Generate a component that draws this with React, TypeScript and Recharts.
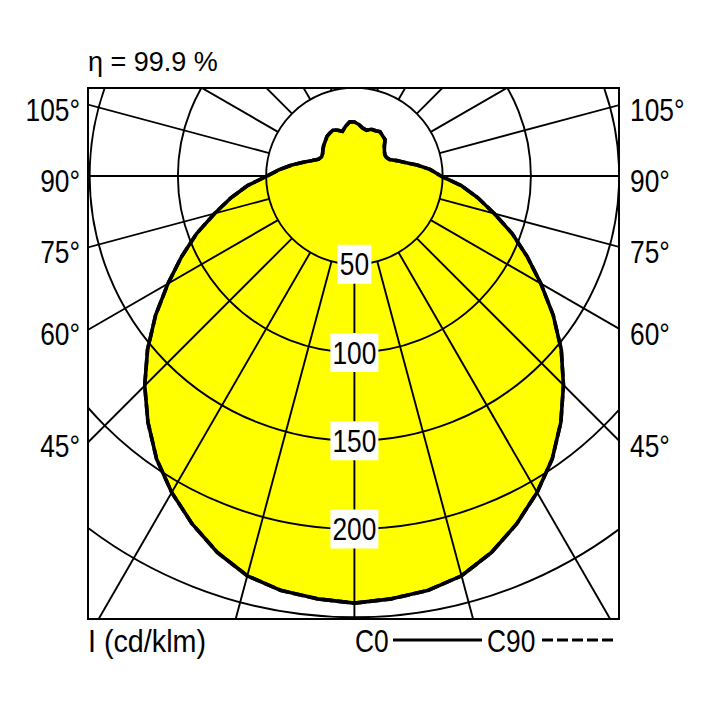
import { RadarChart, Radar, PolarGrid, PolarAngleAxis, PolarRadiusAxis } from "recharts";

// luminous intensity (cd/klm) per gamma angle, 0 = straight down
const gammaAngles = [
  0, 5, 10, 15, 20, 25, 30, 35, 40, 45, 50, 55, 60, 65, 70, 75, 80, 85,
  90, 95, 100, 105, 110, 115, 120, 125, 130, 135, 140, 145, 150, 155, 160, 165, 170, 175,
  180, 185, 190, 195, 200, 205, 210, 215, 220, 225, 230, 235, 240, 245, 250, 255, 260, 265,
  270, 275, 280, 285, 290, 295, 300, 305, 310, 315, 320, 325, 330, 335, 340, 345, 350, 355,
];
const c0Values = [
  242, 240.5, 238.5, 234.5, 227, 217.5, 207, 195.5, 182, 167.5, 153, 137.5, 122, 108, 95, 82, 71, 60.5,
  49, 43, 36, 29.7, 25.5, 22, 21, 21, 22.2, 24, 27, 27.8, 29, 28.3, 28.2, 26.8, 27.5, 29.3,
  30.6, 30.8, 28.6, 26.2, 27.6, 28.7, 28, 27.2, 25.7, 24.6, 23.3, 22, 21.5, 22.5, 25.5, 30, 36, 42.5,
  49.5, 60.5, 71, 82, 95, 108, 122, 137.5, 153, 168, 182, 195.5, 207, 217.5, 227, 234.5, 238.5, 240.5,
];
const c90Values = [
  242, 240.5, 238.5, 234.5, 227, 217.5, 207, 195.5, 182, 167.5, 153, 137.5, 122, 108, 95, 82, 71, 60.5,
  49, 43, 36, 29.7, 25.5, 22, 21, 21, 22.2, 24, 27, 27.8, 29, 28.3, 28.2, 26.8, 27.5, 29.3,
  30.6, 30.8, 28.6, 26.2, 27.6, 28.7, 28, 27.2, 25.7, 24.6, 23.3, 22, 21.5, 22.5, 25.5, 30, 36, 42.5,
  49.5, 60.5, 71, 82, 95, 108, 122, 137.5, 153, 168, 182, 195.5, 207, 217.5, 227, 234.5, 238.5, 240.5,
];

const gridAngles = [0, 15, 30, 45, 60, 75, 90, 105, 120, 135, 150, 165, 180, 195, 210, 225, 240, 255, 270, 285, 300, 315, 330, 345];
const radiusTicks = [50, 100, 150, 200, 250, 300];
const radiusLabels = [50, 100, 150, 200];
const sideAngleLabels = [105, 90, 75, 60, 45];

const FONT = "'Liberation Sans', Arial, sans-serif";
const NARROW = 0.85; // the original uses a condensed face

// geometry of the framed polar plot
const BOX_LEFT = 89;
const BOX_TOP = 89;
const BOX = 529;
const PX_PER_CD = 1.765;
const CX = 265.4;
const CY = 87;

const data = gammaAngles.map((g, i) => ({ gamma: g, c0: c0Values[i], c90: c90Values[i] }));

const chartProps = {
  width: BOX,
  height: BOX,
  data,
  cx: CX,
  cy: CY,
  innerRadius: radiusTicks[0] * PX_PER_CD,
  outerRadius: radiusTicks[radiusTicks.length - 1] * PX_PER_CD,
  startAngle: -90,
  endAngle: 270,
  margin: { top: 0, right: 0, bottom: 0, left: 0 },
};

function NarrowText({ x, y, anchor = "start", width, children }: any) {
  return (
    <text
      transform={`translate(${x} ${y}) scale(${NARROW} 1)`}
      textAnchor={anchor}
      fontFamily={FONT}
      fontSize={31}
      fill="#000"
      textLength={width ? width / NARROW : undefined}
      lengthAdjust={width ? "spacingAndGlyphs" : undefined}
    >
      {children}
    </text>
  );
}

function RadiusTick(props: any) {
  const { x, y, payload } = props;
  if (!radiusLabels.includes(payload.value)) return <g />;
  const label = String(payload.value);
  const w = label.length * 14 + 6;
  return (
    <g>
      <rect x={x - w / 2} y={y - 19.5} width={w} height={39} fill="#fff" />
      <NarrowText x={x} y={y + 11} anchor="middle">{label}</NarrowText>
    </g>
  );
}

function Axes({ labels }: { labels: boolean }) {
  return (
    <>
      <PolarAngleAxis
        dataKey="gamma"
        type="number"
        domain={[0, 360]}
        ticks={gridAngles}
        tick={false}
        tickLine={false}
        axisLine={false}
      />
      <PolarRadiusAxis
        angle={-90}
        type="number"
        domain={[radiusTicks[0], radiusTicks[radiusTicks.length - 1]]}
        ticks={radiusTicks}
        tickCount={radiusTicks.length}
        allowDataOverflow
        axisLine={false}
        tickLine={false}
        tick={labels ? RadiusTick : false}
      />
    </>
  );
}

export default function App() {
  const edgeX = CX; // distance from centre to the left box edge
  const centreY = BOX_TOP + CY;
  const labelY = (a: number) => centreY + edgeX / Math.tan((a * Math.PI) / 180) + 16;

  return (
    <div style={{ position: "absolute", left: 0, top: 0, width: 708, height: 708, background: "#fff" }}>
      <div
        style={{
          position: "absolute",
          left: BOX_LEFT - 2,
          top: BOX_TOP - 2,
          width: BOX + 4,
          height: BOX + 4,
          border: "2px solid #000",
          boxSizing: "border-box",
          overflow: "hidden",
        }}
      >
        {/* yellow fill underneath */}
        <div style={{ position: "absolute", left: 0, top: 0 }}>
          <RadarChart {...chartProps}>
            <Axes labels={false} />
            <Radar
              dataKey="c0"
              fill="#ffff00"
              fillOpacity={1}
              stroke="none"
              dot={false}
              isAnimationActive={false}
            />
          </RadarChart>
        </div>
        {/* grid, outline and intensity labels on top */}
        <div style={{ position: "absolute", left: 0, top: 0 }}>
          <RadarChart {...chartProps}>
            <PolarGrid gridType="circle" stroke="#000" strokeWidth={1.9} />
            <Axes labels={true} />
            <Radar
              dataKey="c90"
              fill="none"
              stroke="#000"
              strokeWidth={3.6}
              strokeDasharray="11 4"
              dot={false}
              isAnimationActive={false}
            />
            <Radar
              dataKey="c0"
              fill="none"
              stroke="#000"
              strokeWidth={3.6}
              strokeLinejoin="round"
              dot={false}
              isAnimationActive={false}
            />
          </RadarChart>
        </div>
      </div>

      <svg
        width={708}
        height={708}
        style={{ position: "absolute", left: 0, top: 0, pointerEvents: "none" }}
      >
        <text x={88} y={71} fontSize={27} fontFamily={FONT} fill="#000">η = 99.9 %</text>
        {sideAngleLabels.map((a) => (
          <g key={a}>
            <NarrowText x={80} y={labelY(a)} anchor="end">{`${a}°`}</NarrowText>
            <NarrowText x={630} y={labelY(a)}>{`${a}°`}</NarrowText>
          </g>
        ))}
        <NarrowText x={88} y={652} width={118}>I (cd/klm)</NarrowText>
        <NarrowText x={355} y={652}>C0</NarrowText>
        <line x1={393} y1={640} x2={482} y2={640} stroke="#000" strokeWidth={3} />
        <NarrowText x={487} y={652}>C90</NarrowText>
        <line x1={542} y1={640} x2={617} y2={640} stroke="#000" strokeWidth={3} strokeDasharray="11 4" />
      </svg>
    </div>
  );
}
